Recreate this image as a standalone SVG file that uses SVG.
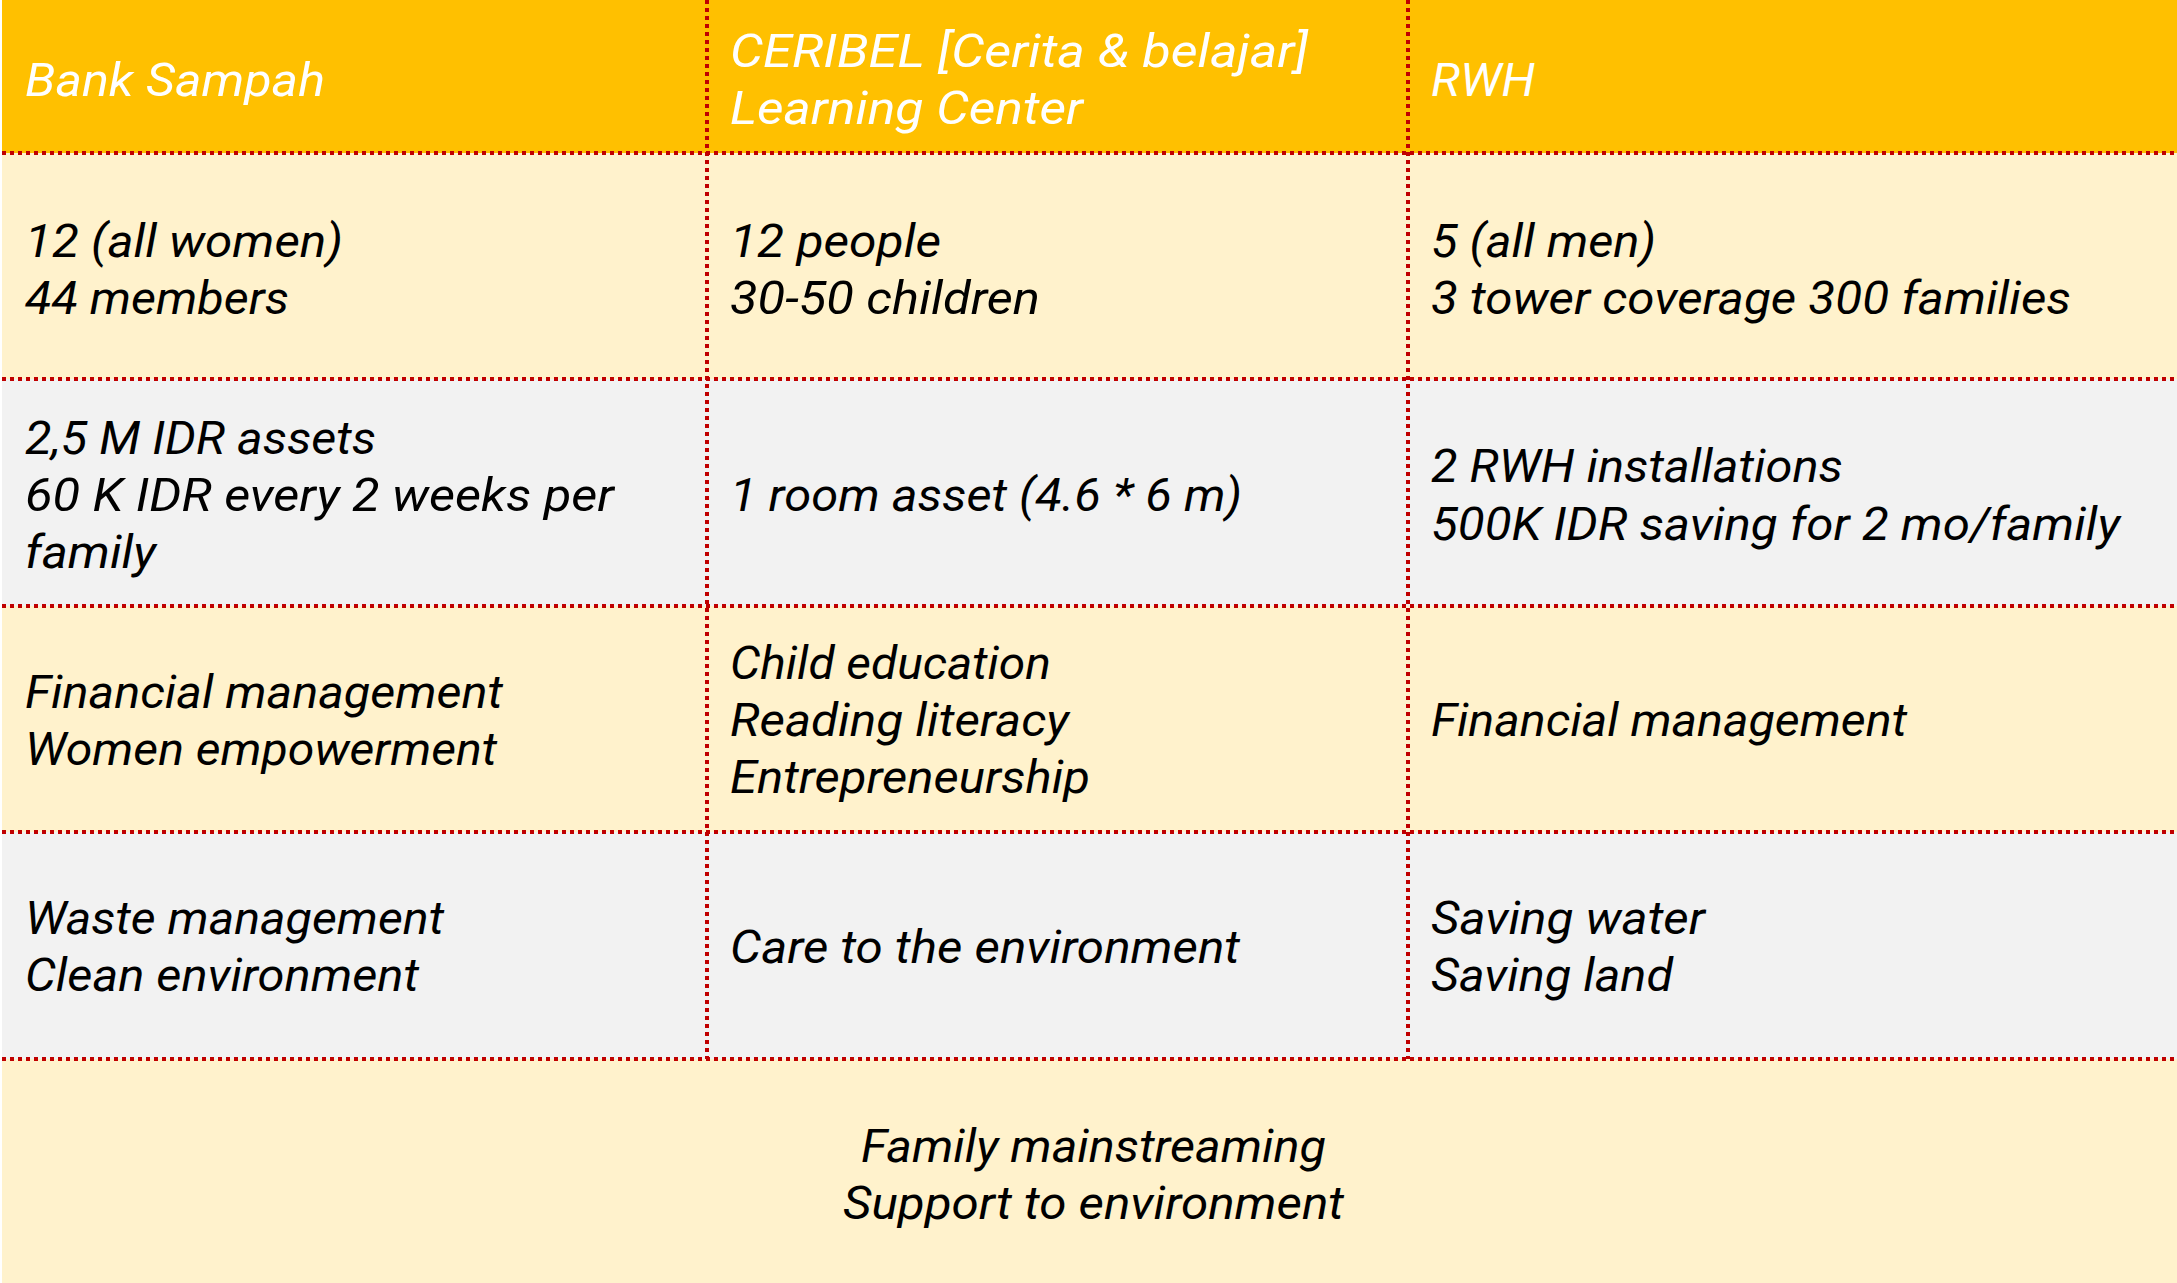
<svg xmlns="http://www.w3.org/2000/svg" width="2177" height="1283" viewBox="0 0 2177 1283">
<style>
.hdr{fill:#FFC000}
.ylw{fill:#FFF2CC}
.gry{fill:#F2F2F2}
text{font-family:Roboto,"Liberation Sans",sans-serif;font-style:italic;font-size:46px;fill:#000}
text.w{fill:#fff}
.grid line{stroke:#C00000;stroke-width:4;stroke-dasharray:4 4}
</style>
<rect x="0" y="0" width="2177" height="1283" fill="#fff"/>
<g id="backgrounds">
<rect class="hdr" x="2" y="0" width="2175" height="153"/>
<rect class="ylw" x="2" y="153" width="2175" height="226"/>
<rect class="gry" x="2" y="379" width="2175" height="227"/>
<rect class="ylw" x="2" y="606" width="2175" height="226"/>
<rect class="gry" x="2" y="832" width="2175" height="227"/>
<rect class="ylw" x="2" y="1059" width="2175" height="224"/>
</g>
<g id="connectors" class="grid">
<line x1="2" y1="153" x2="2177" y2="153"/>
<line x1="2" y1="379" x2="2177" y2="379"/>
<line x1="2" y1="606" x2="2177" y2="606"/>
<line x1="2" y1="832" x2="2177" y2="832"/>
<line x1="2" y1="1059" x2="2177" y2="1059"/>
<line x1="707" y1="0" x2="707" y2="1059"/>
<line x1="1408" y1="0" x2="1408" y2="1059"/>
</g>
<g id="h-bank"><text class="w" x="25" y="96" textLength="300" lengthAdjust="spacingAndGlyphs">Bank Sampah</text></g>
<g id="h-ceribel"><text class="w" x="730" y="67" textLength="578" lengthAdjust="spacingAndGlyphs">CERIBEL [Cerita &amp; belajar]</text><text class="w" x="730" y="124" textLength="353" lengthAdjust="spacingAndGlyphs">Learning Center</text></g>
<g id="h-rwh"><text class="w" x="1431" y="96" textLength="104" lengthAdjust="spacingAndGlyphs">RWH</text></g>

<g id="r1-bank"><text x="25" y="257" textLength="318" lengthAdjust="spacingAndGlyphs">12 (all women)</text><text x="25" y="314" textLength="264" lengthAdjust="spacingAndGlyphs">44 members</text></g>
<g id="r1-ceribel"><text x="730" y="257" textLength="211" lengthAdjust="spacingAndGlyphs">12 people</text><text x="730" y="314" textLength="310" lengthAdjust="spacingAndGlyphs">30-50 children</text></g>
<g id="r1-rwh"><text x="1431" y="257" textLength="225" lengthAdjust="spacingAndGlyphs">5 (all men)</text><text x="1431" y="314" textLength="640" lengthAdjust="spacingAndGlyphs">3 tower coverage 300 families</text></g>

<g id="r2-bank"><text x="25" y="454" textLength="351" lengthAdjust="spacingAndGlyphs">2,5 M IDR assets</text><text x="25" y="511" textLength="589" lengthAdjust="spacingAndGlyphs">60 K IDR every 2 weeks per</text><text x="25" y="568" textLength="131" lengthAdjust="spacingAndGlyphs">family</text></g>
<g id="r2-ceribel"><text x="730" y="511" textLength="512" lengthAdjust="spacingAndGlyphs">1 room asset (4.6 * 6 m)</text></g>
<g id="r2-rwh"><text x="1431" y="482" textLength="412" lengthAdjust="spacingAndGlyphs">2 RWH installations</text><text x="1431" y="540" textLength="689" lengthAdjust="spacingAndGlyphs">500K IDR saving for 2 mo/family</text></g>

<g id="r3-bank"><text x="25" y="708" textLength="478" lengthAdjust="spacingAndGlyphs">Financial management</text><text x="25" y="765" textLength="472" lengthAdjust="spacingAndGlyphs">Women empowerment</text></g>
<g id="r3-ceribel"><text x="730" y="679" textLength="321" lengthAdjust="spacingAndGlyphs">Child education</text><text x="730" y="736" textLength="339" lengthAdjust="spacingAndGlyphs">Reading literacy</text><text x="730" y="793" textLength="360" lengthAdjust="spacingAndGlyphs">Entrepreneurship</text></g>
<g id="r3-rwh"><text x="1431" y="736" textLength="476" lengthAdjust="spacingAndGlyphs">Financial management</text></g>

<g id="r4-bank"><text x="25" y="934" textLength="419" lengthAdjust="spacingAndGlyphs">Waste management</text><text x="25" y="991" textLength="394" lengthAdjust="spacingAndGlyphs">Clean environment</text></g>
<g id="r4-ceribel"><text x="730" y="963" textLength="510" lengthAdjust="spacingAndGlyphs">Care to the environment</text></g>
<g id="r4-rwh"><text x="1431" y="934" textLength="274" lengthAdjust="spacingAndGlyphs">Saving water</text><text x="1431" y="991" textLength="242" lengthAdjust="spacingAndGlyphs">Saving land</text></g>

<g id="footer"><text x="861" y="1162" textLength="465" lengthAdjust="spacingAndGlyphs">Family mainstreaming</text><text x="843" y="1219" textLength="501" lengthAdjust="spacingAndGlyphs">Support to environment</text></g>
</svg>
